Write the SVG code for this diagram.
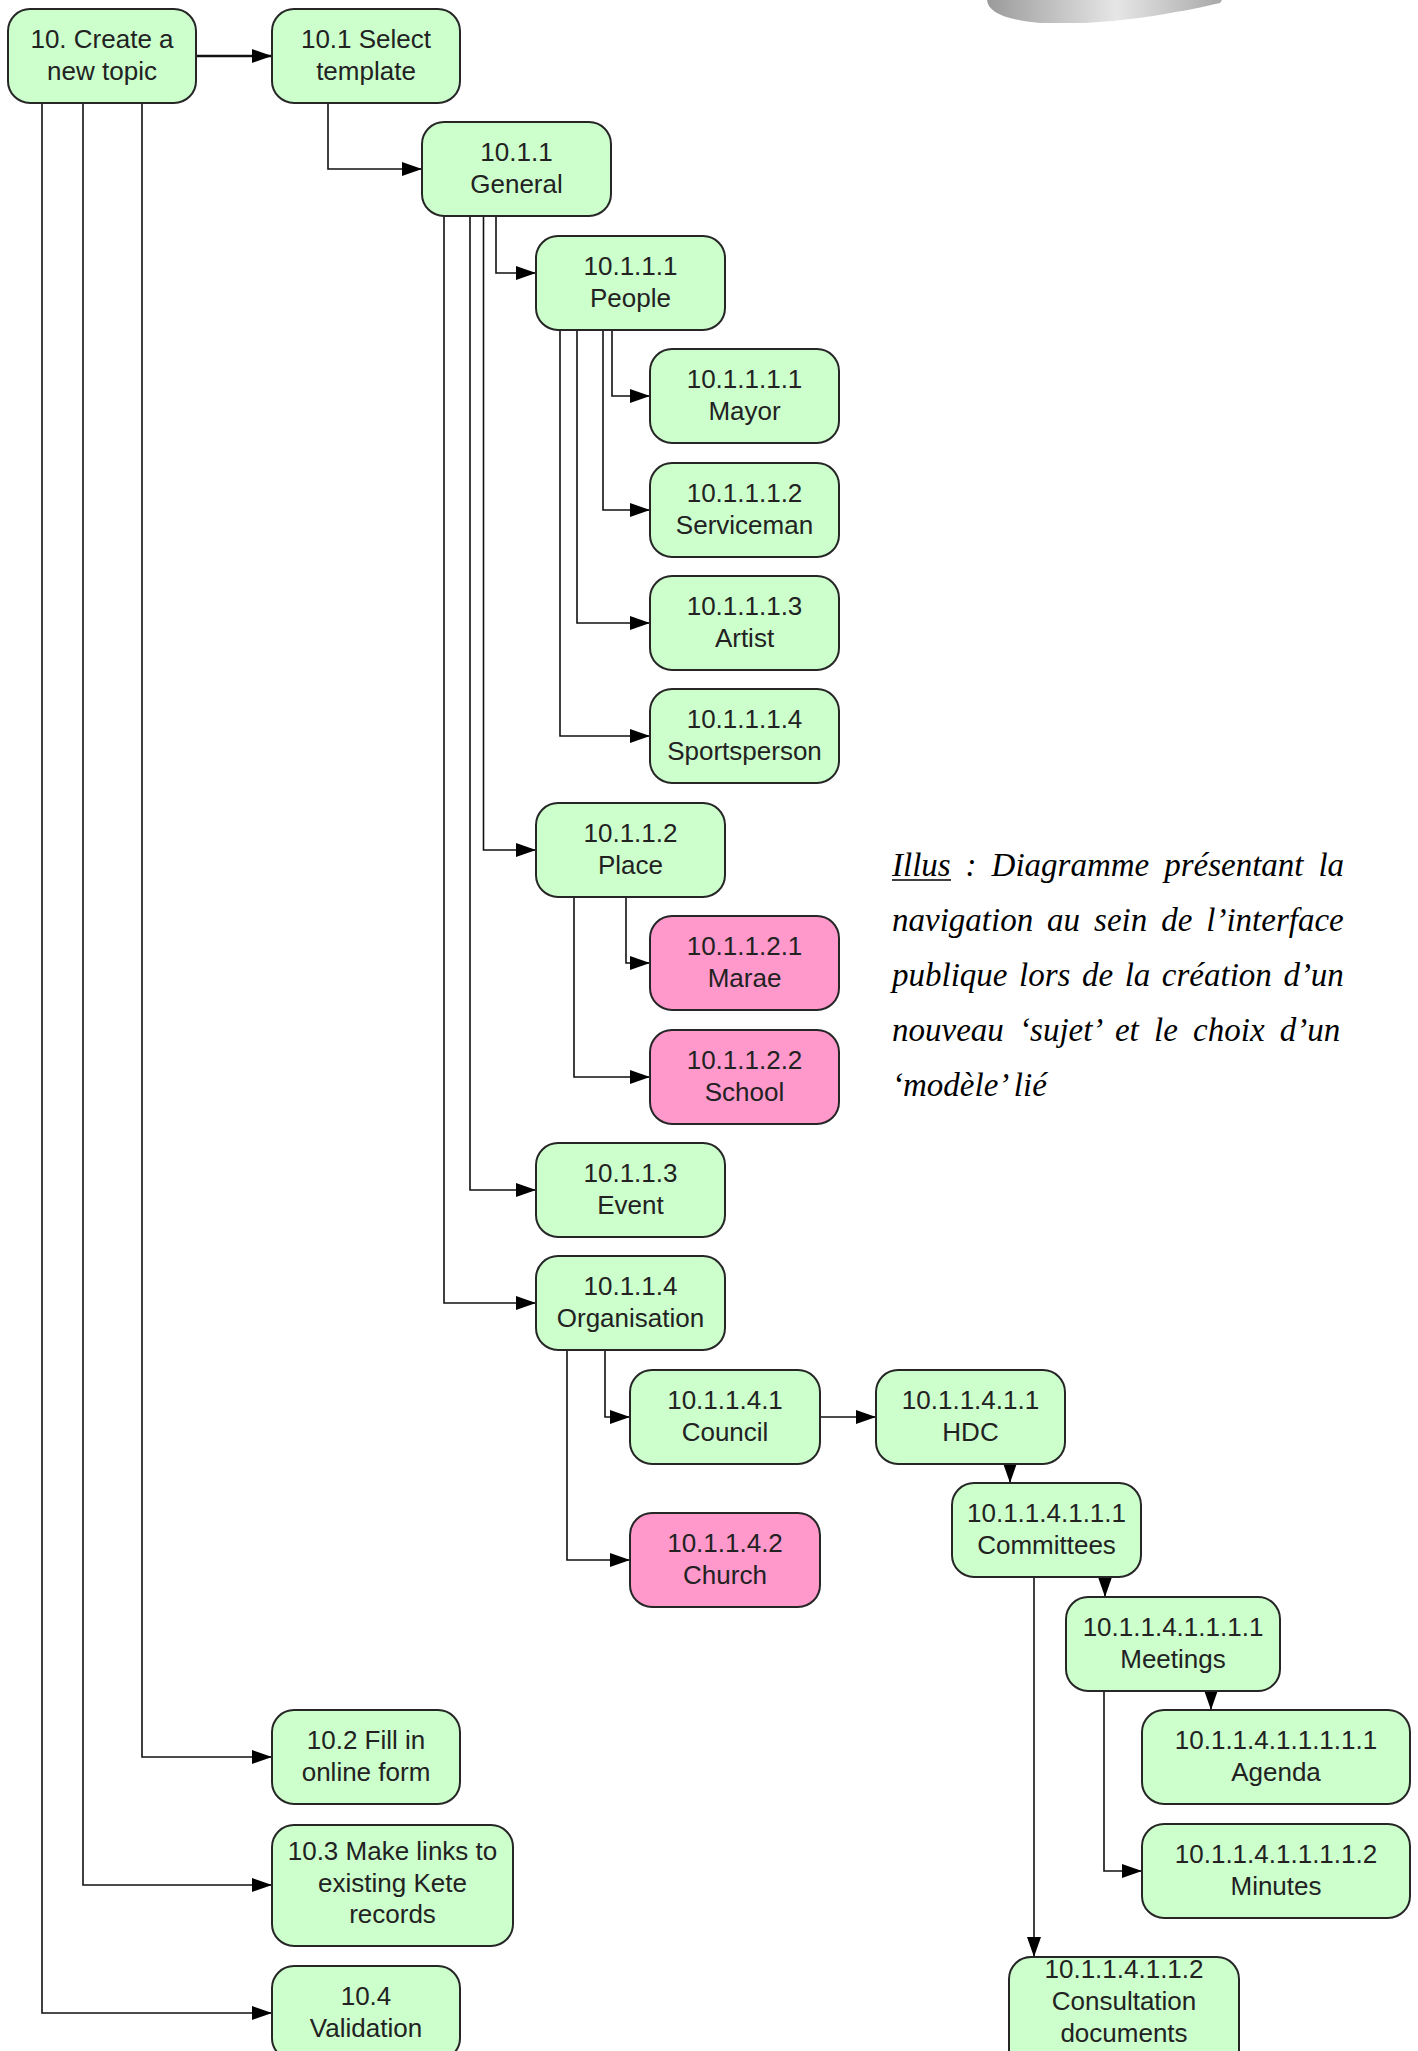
<svg xmlns="http://www.w3.org/2000/svg" width="1418" height="2051" viewBox="0 0 1418 2051">
<defs>
<marker id="arr" markerUnits="userSpaceOnUse" markerWidth="20" markerHeight="14" refX="20" refY="7" orient="auto">
<path d="M0,0 L20,7 L0,14 Z" fill="#000"/>
</marker>
<linearGradient id="swoosh" x1="0" y1="0" x2="1" y2="0">
<stop offset="0" stop-color="#9a9a9a"/>
<stop offset="0.55" stop-color="#e6e6e6"/>
<stop offset="1" stop-color="#a8a8a8"/>
</linearGradient>
<style>
.n rect{stroke:#262626;stroke-width:2}
.g rect{fill:#ccffcc}
.p rect{fill:#ff99cc}
.n text{font-family:"Liberation Sans",Arial,sans-serif;font-size:26px;fill:#222;text-anchor:middle}
.c path{fill:none;stroke:#111;stroke-width:1.6;marker-end:url(#arr)}
.cap{font-family:"Liberation Serif","Times New Roman",serif;font-style:italic;font-size:33px;fill:#000}
</style>
</defs>
<rect width="1418" height="2051" fill="#fff"/>
<path d="M987,0 C988,12 1005,20 1040,23 L1085,23 C1140,20 1190,10 1220,3 L1222,0 Z" fill="url(#swoosh)"/>

<g id="connectors" class="c">
<path d="M196,56 H272" style="stroke-width:2.4"/>
<path d="M328,103 V169 H422"/>
<path d="M496,216 V273 H536"/>
<path d="M483.5,216 V850 H536"/>
<path d="M470,216 V1190 H536"/>
<path d="M444,216 V1303 H536"/>
<path d="M612,330 V396 H650"/>
<path d="M603,330 V510 H650"/>
<path d="M577,330 V623 H650"/>
<path d="M560,330 V736 H650"/>
<path d="M626,897 V963 H650"/>
<path d="M574,897 V1077 H650"/>
<path d="M605,1350 V1417 H630"/>
<path d="M567,1350 V1560 H630"/>
<path d="M820,1417 H876"/>
<path d="M1010,1464 V1483"/>
<path d="M1105,1577 V1597"/>
<path d="M1034,1577 V1957"/>
<path d="M1211,1691 V1710"/>
<path d="M1104,1691 V1871 H1142"/>
<path d="M142,102 V1757 H272"/>
<path d="M83,102 V1885 H272"/>
<path d="M42,102 V2013 H272"/>
</g>

<g id="n10" class="n g"><rect x="8" y="9" width="188" height="94" rx="22"/><text x="102" y="48">10. Create a</text><text x="102" y="80">new topic</text></g>
<g id="n10_1" class="n g"><rect x="272" y="9" width="188" height="94" rx="22"/><text x="366" y="48">10.1 Select</text><text x="366" y="80">template</text></g>
<g id="n10_1_1" class="n g"><rect x="422" y="122" width="189" height="94" rx="22"/><text x="516.5" y="161">10.1.1</text><text x="516.5" y="193">General</text></g>
<g id="n10_1_1_1" class="n g"><rect x="536" y="236" width="189" height="94" rx="22"/><text x="630.5" y="275">10.1.1.1</text><text x="630.5" y="307">People</text></g>
<g id="n10_1_1_1_1" class="n g"><rect x="650" y="349" width="189" height="94" rx="22"/><text x="744.5" y="388">10.1.1.1.1</text><text x="744.5" y="420">Mayor</text></g>
<g id="n10_1_1_1_2" class="n g"><rect x="650" y="463" width="189" height="94" rx="22"/><text x="744.5" y="502">10.1.1.1.2</text><text x="744.5" y="534">Serviceman</text></g>
<g id="n10_1_1_1_3" class="n g"><rect x="650" y="576" width="189" height="94" rx="22"/><text x="744.5" y="615">10.1.1.1.3</text><text x="744.5" y="647">Artist</text></g>
<g id="n10_1_1_1_4" class="n g"><rect x="650" y="689" width="189" height="94" rx="22"/><text x="744.5" y="728">10.1.1.1.4</text><text x="744.5" y="760">Sportsperson</text></g>
<g id="n10_1_1_2" class="n g"><rect x="536" y="803" width="189" height="94" rx="22"/><text x="630.5" y="842">10.1.1.2</text><text x="630.5" y="874">Place</text></g>
<g id="n10_1_1_2_1" class="n p"><rect x="650" y="916" width="189" height="94" rx="22"/><text x="744.5" y="955">10.1.1.2.1</text><text x="744.5" y="987">Marae</text></g>
<g id="n10_1_1_2_2" class="n p"><rect x="650" y="1030" width="189" height="94" rx="22"/><text x="744.5" y="1069">10.1.1.2.2</text><text x="744.5" y="1101">School</text></g>
<g id="n10_1_1_3" class="n g"><rect x="536" y="1143" width="189" height="94" rx="22"/><text x="630.5" y="1182">10.1.1.3</text><text x="630.5" y="1214">Event</text></g>
<g id="n10_1_1_4" class="n g"><rect x="536" y="1256" width="189" height="94" rx="22"/><text x="630.5" y="1295">10.1.1.4</text><text x="630.5" y="1327">Organisation</text></g>
<g id="n10_1_1_4_1" class="n g"><rect x="630" y="1370" width="190" height="94" rx="22"/><text x="725" y="1409">10.1.1.4.1</text><text x="725" y="1441">Council</text></g>
<g id="n10_1_1_4_1_1" class="n g"><rect x="876" y="1370" width="189" height="94" rx="22"/><text x="970.5" y="1409">10.1.1.4.1.1</text><text x="970.5" y="1441">HDC</text></g>
<g id="n10_1_1_4_2" class="n p"><rect x="630" y="1513" width="190" height="94" rx="22"/><text x="725" y="1552">10.1.1.4.2</text><text x="725" y="1584">Church</text></g>
<g id="n10_1_1_4_1_1_1" class="n g"><rect x="952" y="1483" width="189" height="94" rx="22"/><text x="1046.5" y="1522">10.1.1.4.1.1.1</text><text x="1046.5" y="1554">Committees</text></g>
<g id="n10_1_1_4_1_1_1_1" class="n g"><rect x="1066" y="1597" width="214" height="94" rx="22"/><text x="1173" y="1636">10.1.1.4.1.1.1.1</text><text x="1173" y="1668">Meetings</text></g>
<g id="n10_1_1_4_1_1_1_1_1" class="n g"><rect x="1142" y="1710" width="268" height="94" rx="22"/><text x="1276" y="1749">10.1.1.4.1.1.1.1.1</text><text x="1276" y="1781">Agenda</text></g>
<g id="n10_1_1_4_1_1_1_1_2" class="n g"><rect x="1142" y="1824" width="268" height="94" rx="22"/><text x="1276" y="1863">10.1.1.4.1.1.1.1.2</text><text x="1276" y="1895">Minutes</text></g>
<g id="n10_1_1_4_1_1_2" class="n g"><rect x="1009" y="1957" width="230" height="121" rx="22"/><text x="1124" y="1978">10.1.1.4.1.1.2</text><text x="1124" y="2010">Consultation</text><text x="1124" y="2042">documents</text></g>
<g id="n10_2" class="n g"><rect x="272" y="1710" width="188" height="94" rx="22"/><text x="366" y="1749">10.2 Fill in</text><text x="366" y="1781">online form</text></g>
<g id="n10_3" class="n g"><rect x="272" y="1825" width="241" height="121" rx="22"/><text x="392.5" y="1860">10.3 Make links to</text><text x="392.5" y="1892">existing Kete</text><text x="392.5" y="1923">records</text></g>
<g id="n10_4" class="n g"><rect x="272" y="1966" width="188" height="94" rx="22"/><text x="366" y="2005">10.4</text><text x="366" y="2037">Validation</text></g>

<g id="caption">
<text class="cap" x="892" y="876" word-spacing="6.7">Illus : Diagramme présentant la</text>
<line x1="892" y1="880" x2="951" y2="880" stroke="#000" stroke-width="1.5"/>
<text class="cap" x="892" y="931" word-spacing="5.7">navigation au sein de l’interface</text>
<text class="cap" x="892" y="986" word-spacing="3.3">publique lors de la création d’un</text>
<text class="cap" x="892" y="1041" word-spacing="7">nouveau ‘sujet’ et le choix d’un</text>
<text class="cap" x="892" y="1096">‘modèle’ lié</text>
</g>
</svg>
